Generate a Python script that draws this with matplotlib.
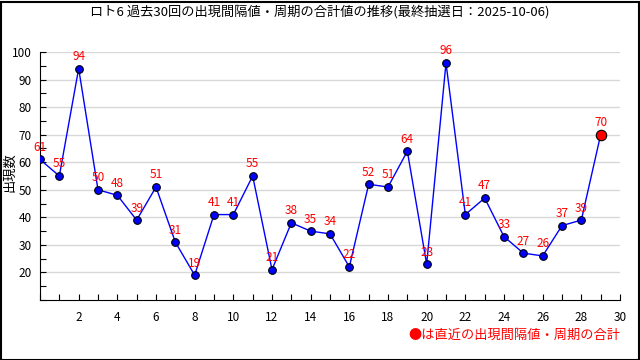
import matplotlib
matplotlib.use('agg')
import matplotlib.pyplot as plt
from matplotlib.ticker import MultipleLocator

plt.rcParams['font.family'] = ['Noto Sans CJK JP', 'DejaVu Sans']

# 過去30回の合計値
draws = list(range(30))
totals = [61, 55, 94, 50, 48, 39, 51, 31, 19, 41, 41, 55, 21, 38, 35, 34, 22,
          52, 51, 64, 23, 96, 41, 47, 33, 27, 26, 37, 39, 70]
title = 'ロト6 過去30回の出現間隔値・周期の合計値の推移(最終抽選日：2025-10-06)'
ylabel = '出現数'
note = '●は直近の出現間隔値・周期の合計'

fig = plt.figure(figsize=(6.4, 3.6), dpi=100)
ax = fig.add_axes([40/640, 1-300/360, 580/640, 248/360])

ax.plot(draws, totals, color='blue', lw=1, zorder=2)
ax.plot(draws[:-1], totals[:-1], 'o', ms=5.5, mfc='blue', mec='black', mew=0.8, zorder=3)
ax.plot(draws[-1], totals[-1], 'o', ms=7.5, mfc='red', mec='black', mew=0.8, zorder=3)
for x, y in zip(draws, totals):
    ax.annotate(str(y), (x, y), xytext=(0, 4), textcoords='offset points',
                ha='center', va='bottom', color='red', fontsize=8.5)

ax.set_xlim(0, 30)
ax.set_ylim(10, 100)
ax.xaxis.set_minor_locator(MultipleLocator(1))
ax.yaxis.set_minor_locator(MultipleLocator(5))
ax.set_xticks(range(2, 31, 2))
ax.set_yticks(range(20, 101, 10))
ax.tick_params(which='both', direction='in', labelsize=8.5, length=4, width=0.8)
ax.tick_params(axis='x', pad=8)
ax.tick_params(axis='y', pad=6)
ax.grid(axis='y', color='#d8d8d8', lw=1, zorder=0)
for s in ['top', 'right']:
    ax.spines[s].set_visible(False)

fig.text(10/640, 1-172/360, ylabel, rotation=90, ha='center', va='center', fontsize=9.5)
fig.text(0.5, 1-12/360, title, ha='center', va='center', fontsize=9.5)
fig.text(620/640, 1-335/360, note, ha='right', va='center', color='red', fontsize=9.5)

fig.patches.append(plt.Rectangle((0.5/640, 0.5/360), 638/640, 358/360, transform=fig.transFigure,
                                 fill=False, ec='black', lw=1.5))
fig.savefig('out.png', dpi=100)
